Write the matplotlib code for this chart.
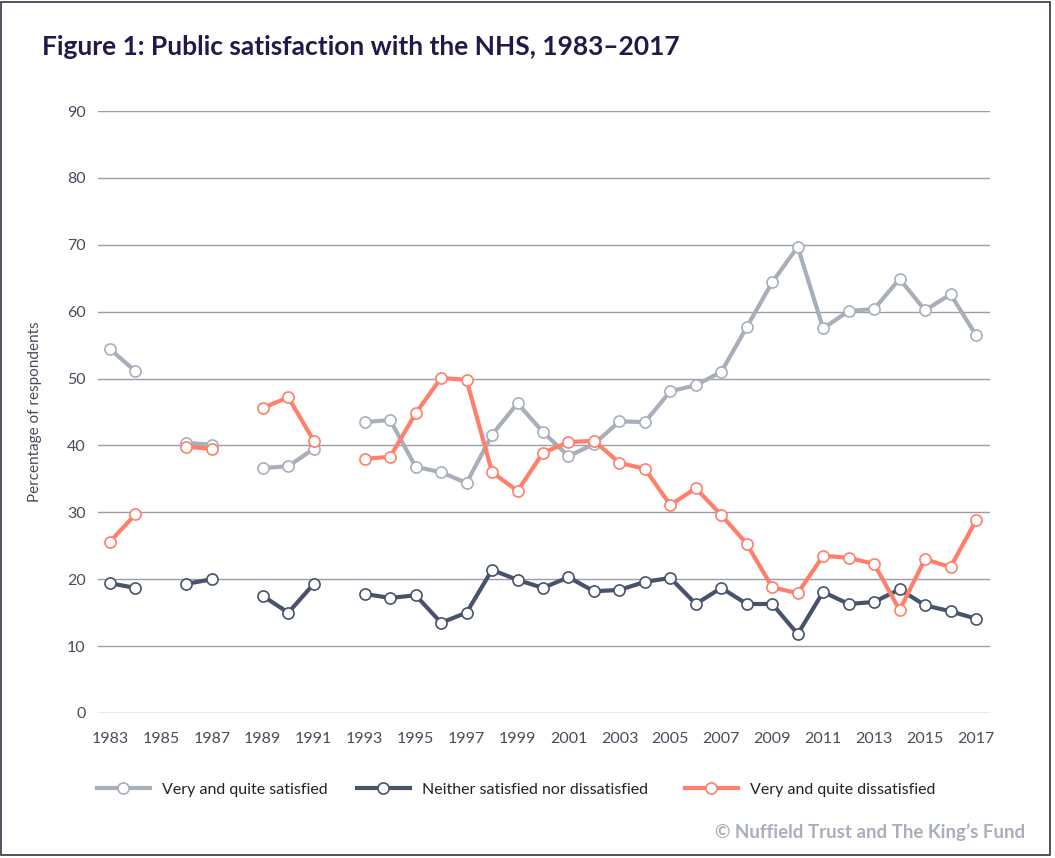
import numpy as np
import matplotlib
matplotlib.use("Agg")
import matplotlib.pyplot as plt
from matplotlib.patches import Rectangle

# Data: survey years (gaps where no survey was run)
years = list(range(1983, 2018))
nan = np.nan

satisfied = [54.4, 51.1, nan, 40.4, 40.1, nan, 36.6, 36.9, 39.5, nan,
             43.5, 43.8, 36.8, 36.0, 34.4, 41.6, 46.3, 42.0, 38.4, 40.2,
             43.6, 43.5, 48.1, 49.0, 51.0, 57.7, 64.4, 69.7, 57.5, 60.1,
             60.4, 64.9, 60.2, 62.6, 56.5]
neither = [19.4, 18.7, nan, 19.3, 20.0, nan, 17.5, 15.0, 19.3, nan,
           17.8, 17.2, 17.6, 13.5, 15.0, 21.4, 19.9, 18.7, 20.3, 18.2,
           18.4, 19.6, 20.2, 16.3, 18.7, 16.3, 16.3, 11.8, 18.1, 16.3,
           16.6, 18.5, 16.1, 15.2, 14.1]
dissatisfied = [25.6, 29.7, nan, 39.8, 39.5, nan, 45.6, 47.2, 40.7, nan,
                38.0, 38.3, 44.8, 50.1, 49.8, 36.0, 33.2, 38.9, 40.5, 40.7,
                37.4, 36.5, 31.1, 33.6, 29.6, 25.3, 18.8, 17.9, 23.5, 23.2,
                22.3, 15.4, 23.0, 21.8, 28.8]

labels = ["Very and quite satisfied", "Neither satisfied nor dissatisfied",
          "Very and quite dissatisfied"]
colors = ["#a8afba", "#46536b", "#ff7f6a"]

plt.rcParams['font.family'] = ['Lato', 'DejaVu Sans']

fig = plt.figure(figsize=(10.55, 8.58), dpi=100)
ax = fig.add_axes([0.0929, 0.1690, 0.8455, 0.7016])

handles = []
for vals, lab, col in zip([satisfied, neither, dissatisfied], labels, colors):
    h, = ax.plot(years, vals, color=col, lw=3, marker="o", markersize=8,
                 markerfacecolor="white", markeredgecolor=col, markeredgewidth=1.2,
                 label=lab, clip_on=False, zorder=3)
    handles.append(h)

ax.set_xlim(1982.53, 2017.55)
ax.set_ylim(0, 90)
ax.set_yticks(range(0, 91, 10))
ax.set_xticks(range(1983, 2018, 2))
ax.grid(axis="y", color="#9a9caa", lw=1)
ax.set_axisbelow(True)
for s in ax.spines.values():
    s.set_visible(False)
ax.tick_params(length=0, labelsize=11.5, colors="#4a4a5a")
ax.tick_params(axis="y", pad=9)
ax.tick_params(axis="x", pad=14)
ax.set_ylabel("Percentage of respondents", fontsize=11, color="#4a4a5a")
ax.yaxis.set_label_coords(-0.063, 0.5)

fig.text(0.040, 0.945, "Figure 1: Public satisfaction with the NHS, 1983\u20132017",
         fontsize=19, fontweight="bold", color="#1f1a4a", va="center")

# one small legend per series, placed where the reference puts them
for h, lab, x0 in zip(handles, labels, [0.0919, 0.3384, 0.6493]):
    leg = fig.legend([h], [lab], loc="center left", bbox_to_anchor=(x0, 0.0793),
                     frameon=False, fontsize=11.5, handlelength=3.3,
                     handletextpad=0.75, borderpad=0, borderaxespad=0,
                     labelcolor="#222222")

fig.text(0.972, 0.030, "\u00a9 Nuffield Trust and The King\u2019s Fund", ha="right",
         va="center", fontsize=13.5, fontweight="bold", color="#a8afba")

fig.patches.append(Rectangle((0.001, 0.003), 0.994, 0.995, transform=fig.transFigure,
                             fill=False, edgecolor="#333344", lw=1.2))

fig.savefig("out.png", dpi=100)
